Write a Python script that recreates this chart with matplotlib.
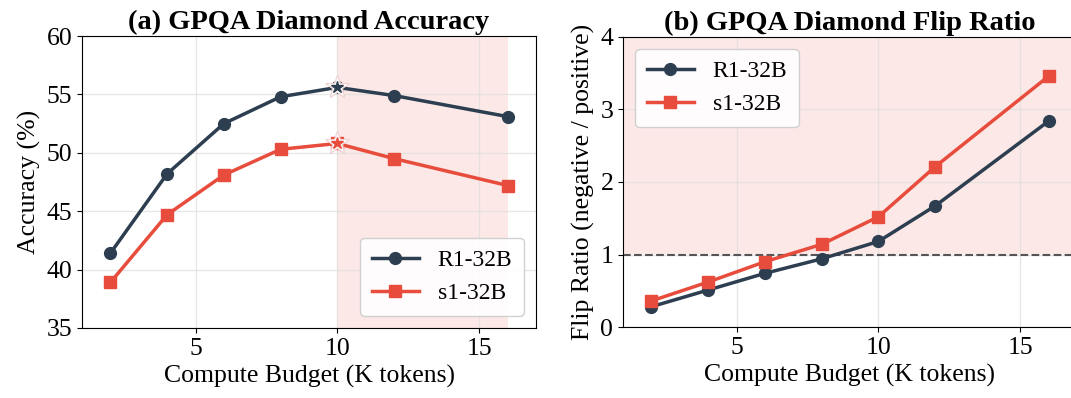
import numpy as np
import matplotlib.pyplot as plt

plt.rcParams['font.family'] = ['Liberation Serif', 'DejaVu Serif']

budget = [2, 4, 6, 8, 10, 12, 16]
acc_r1 = [41.4, 48.2, 52.5, 54.8, 55.6, 54.9, 53.1]
acc_s1 = [38.9, 44.7, 48.1, 50.3, 50.8, 49.5, 47.2]
flip_r1 = [0.28, 0.51, 0.74, 0.94, 1.18, 1.67, 2.84]
flip_s1 = [0.36, 0.62, 0.90, 1.14, 1.52, 2.21, 3.46]
best_budget = 10

navy = '#2c3e50'
red = '#e74c3c'

fig = plt.figure(figsize=(10.71, 3.98), dpi=100)
W, H = 1071, 398
ax1 = fig.add_axes([82 / W, 1 - 328 / H, 454 / W, 292 / H])
ax2 = fig.add_axes([623 / W, 1 - 327 / H, 454 / W, 290 / H])

# (a) accuracy
ax1.axvspan(10, 16, color=red, alpha=0.12, lw=0, zorder=0)
ax1.plot(budget, acc_r1, '-o', color=navy, lw=2.5, ms=8.5, label='R1-32B', zorder=3)
ax1.plot(budget, acc_s1, '-s', color=red, lw=2.5, ms=8.5, label='s1-32B', zorder=3)
i = budget.index(best_budget)
for vals, c in [(acc_r1, navy), (acc_s1, red)]:
    ax1.plot(best_budget, vals[i], marker='*', ms=18, color='white', mec='#f0d0d0', mew=0.8, zorder=4)
    ax1.plot(best_budget, vals[i], marker='*', ms=9, color=c, zorder=5)
ax1.set_xlim(1, 17)
ax1.set_ylim(35, 60)
ax1.set_xticks([5, 10, 15])
ax1.set_yticks([35, 40, 45, 50, 55, 60])
ax1.grid(True, color='#dddddd', alpha=0.7, lw=1)
ax1.set_axisbelow(True)
ax1.set_xlabel('Compute Budget (K tokens)', fontsize=18.5)
ax1.set_ylabel('Accuracy (%)', fontsize=18.5)
ax1.set_title('(a) GPQA Diamond Accuracy', fontsize=20.5, fontweight='bold', pad=5)
ax1.tick_params(labelsize=18.5)
ax1.legend(loc='lower right', fontsize=17, framealpha=0.9, borderpad=0.5)

# (b) flip ratio
ax2.axhspan(1, 4, color=red, alpha=0.12, lw=0, zorder=0)
ax2.axhline(1, color='#555555', ls='--', lw=1.5, zorder=2)
ax2.plot(budget, flip_r1, '-o', color=navy, lw=2.5, ms=8.5, label='R1-32B', zorder=3)
ax2.plot(budget, flip_s1, '-s', color=red, lw=2.5, ms=8.5, label='s1-32B', zorder=3)
ax2.set_xlim(1, 17)
ax2.set_ylim(0, 4)
ax2.set_xticks([5, 10, 15])
ax2.set_yticks([0, 1, 2, 3, 4])
ax2.grid(True, color='#dddddd', alpha=0.7, lw=1)
ax2.set_axisbelow(True)
ax2.set_xlabel('Compute Budget (K tokens)', fontsize=18.5)
ax2.set_ylabel('Flip Ratio (negative / positive)', fontsize=18.5)
ax2.set_title('(b) GPQA Diamond Flip Ratio', fontsize=20.5, fontweight='bold', pad=5)
ax2.tick_params(labelsize=18.5)
ax2.legend(loc='upper left', fontsize=17, framealpha=0.9, borderpad=0.5)

fig.savefig('out.png', dpi=100)
